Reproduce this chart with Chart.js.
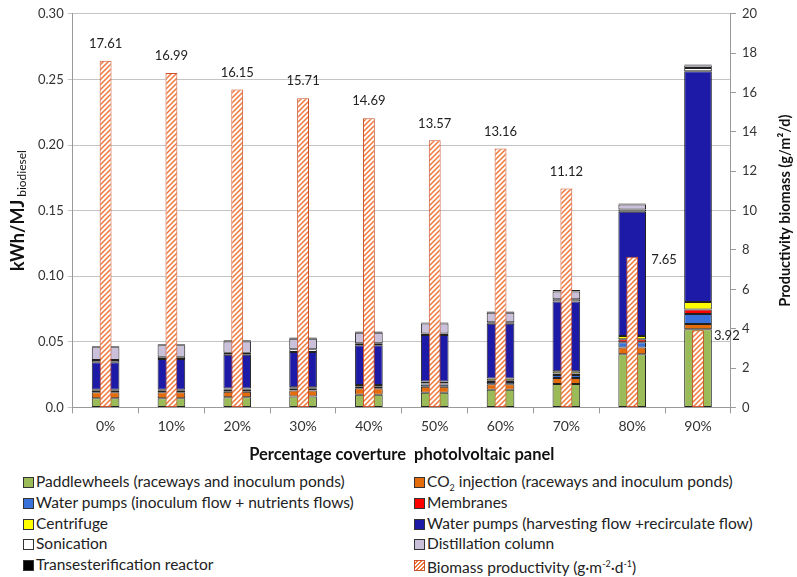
<!DOCTYPE html>
<html>
<head>
<meta charset="utf-8">
<script src="https://cdn.jsdelivr.net/npm/chart.js@4.4.1/dist/chart.umd.min.js"></script>
<style>
body { margin: 0; background: #fff; font-family: Lato, sans-serif; }
#wrap { position: relative; width: 797px; height: 577px; overflow: hidden; }
#chartBox { position: absolute; left: 0; top: 0; width: 797px; height: 469px; }
.item { position: absolute; font-size: 15.5px; color: #222; white-space: nowrap; line-height: 18px; }
.sw { position: absolute; width: 9px; height: 9px; border: 1px solid #333; }
.item sub, .item sup { font-size: 9px; }
</style>
</head>
<body>
<div id="wrap">
  <div id="chartBox"><canvas id="energyChart"></canvas></div>
  <div id="legend"></div>
</div>
<script>
// chart data
const coverage = ['0%', '10%', '20%', '30%', '40%', '50%', '60%', '70%', '80%', '90%'];

const paddlewheels   = [0.0070, 0.0070, 0.0078, 0.0083, 0.0096, 0.0111, 0.0134, 0.0179, 0.0406, 0.0595];
const co2Injection   = [0.0045, 0.0045, 0.0042, 0.0045, 0.0050, 0.0046, 0.0042, 0.0046, 0.0050, 0.0040];
const pumpsInoculum  = [0.0010, 0.0010, 0.0012, 0.0012, 0.0012, 0.0018, 0.0018, 0.0022, 0.0040, 0.0076];
const membranes      = [0.0005, 0.0005, 0.0006, 0.0006, 0.0006, 0.0008, 0.0009, 0.0011, 0.0023, 0.0035];
const centrifuge     = [0.0005, 0.0005, 0.0007, 0.0007, 0.0007, 0.0014, 0.0018, 0.0018, 0.0026, 0.0058];
const pumpsHarvest   = [0.0209, 0.0234, 0.0257, 0.0270, 0.0302, 0.0355, 0.0416, 0.0531, 0.0947, 0.1759];
const sonication     = [0.0018, 0.0017, 0.0015, 0.0020, 0.0015, 0.0012, 0.0012, 0.0017, 0.0017, 0.0023];
const distillation   = [0.0096, 0.0088, 0.0086, 0.0081, 0.0081, 0.0076, 0.0073, 0.0060, 0.0038, 0.0020];
const transester     = [0.0008, 0.0008, 0.0008, 0.0008, 0.0010, 0.0008, 0.0008, 0.0010, 0.0008, 0.0008];

const productivity   = [17.61, 16.99, 16.15, 15.71, 14.69, 13.57, 13.16, 11.12, 7.65, 3.92];

const seriesNames = [
    'Paddlewheels (raceways and inoculum ponds)',
    'CO2 injection (raceways and inoculum ponds)',
    'Water pumps (inoculum flow + nutrients flows)',
    'Membranes',
    'Centrifuge',
    'Water pumps (harvesting flow +recirculate flow)',
    'Sonication',
    'Distillation column',
    'Transesterification reactor'
];
const seriesColors = ['#9bbb59', '#e46c0a', '#3a72dc', '#ff0000', '#ffff00', '#1c1aa6', '#ffffff', '#cbc0da', '#000000'];

// hatched fill for biomass productivity
function makeHatch() {
    const c = document.createElement('canvas');
    c.width = 5; c.height = 5;
    const g = c.getContext('2d');
    g.fillStyle = '#fff';
    g.fillRect(0, 0, 5, 5);
    g.strokeStyle = '#f0773a';
    g.lineWidth = 1.5;
    g.beginPath();
    g.moveTo(0, 5); g.lineTo(5, 0);
    g.moveTo(-1, 1); g.lineTo(1, -1);
    g.moveTo(4, 6); g.lineTo(6, 4);
    g.stroke();
    return g.createPattern(c, 'repeat');
}
const hatch = makeHatch();

const stackValues = [paddlewheels, co2Injection, pumpsInoculum, membranes, centrifuge, pumpsHarvest, sonication, distillation, transester];
const datasets = stackValues.map((vals, i) => ({
    label: seriesNames[i],
    data: vals,
    backgroundColor: seriesColors[i],
    borderColor: '#222',
    borderWidth: 1,
    borderSkipped: false,
    barPercentage: 0.42,
    categoryPercentage: 1,
    yAxisID: 'y',
    order: 1
}));
datasets.push({
    label: 'Biomass productivity',
    data: productivity,
    backgroundColor: hatch,
    borderColor: '#c9502a',
    borderWidth: 1,
    borderSkipped: false,
    barPercentage: 0.18,
    categoryPercentage: 1,
    yAxisID: 'y2',
    order: 0
});

// value labels over the hatched bars + rotated axis titles
const extras = {
    id: 'extras',
    afterDatasetsDraw(chart) {
        const ctx = chart.ctx;
        const meta = chart.getDatasetMeta(datasets.length - 1);
        ctx.save();
        ctx.font = '13px Lato';
        ctx.fillStyle = '#222';
        meta.data.forEach((bar, i) => {
            const txt = productivity[i].toFixed(2);
            ctx.textBaseline = 'middle';
            if (i >= 8) {
                ctx.textAlign = 'left';
                ctx.fillText(txt, bar.x + (i === 8 ? 19 : 16), bar.y + (i === 8 ? 3 : 6));
            } else {
                ctx.textAlign = 'center';
                ctx.fillText(txt, bar.x, bar.y - 17);
            }
        });
        ctx.restore();
    },
    afterDraw(chart) {
        const ctx = chart.ctx;
        const area = chart.chartArea;
        const midY = (area.top + area.bottom) / 2;
        ctx.save();
        ctx.fillStyle = '#111';
        // left title: kWh/MJ with subscript biodiesel
        ctx.translate(18, midY);
        ctx.rotate(-Math.PI / 2);
        const main = 'kWh/MJ';
        const sub = ' biodiesel';
        ctx.font = '12px Lato';
        const subW = ctx.measureText(sub).width;
        ctx.font = 'bold 18px Lato';
        const mainW = ctx.measureText(main).width;
        const startX = -(mainW + subW) / 2;
        ctx.textBaseline = 'middle';
        ctx.textAlign = 'left';
        ctx.fillText(main, startX, 0);
        ctx.font = '12px Lato';
        ctx.fillText(sub, startX + mainW, 4);
        ctx.restore();

        // right title, reads bottom to top
        ctx.save();
        ctx.fillStyle = '#111';
        ctx.translate(785, midY);
        ctx.rotate(-Math.PI / 2);
        ctx.font = 'bold 14.5px Lato';
        ctx.textAlign = 'center';
        ctx.textBaseline = 'middle';
        ctx.fillText('Productivity biomass (g/m\u00B2/d)', 0, 0);
        ctx.restore();
    }
};

new Chart(document.getElementById('energyChart'), {
    type: 'bar',
    data: { labels: coverage, datasets: datasets },
    options: {
        responsive: true,
        maintainAspectRatio: false,
        animation: false,
        layout: { padding: { left: 34, right: 34, top: 3, bottom: 0 } },
        plugins: {
            legend: { display: false },
            tooltip: { enabled: false }
        },
        scales: {
            x: {
                stacked: true,
                grid: { display: true, offset: true, drawOnChartArea: false, tickLength: 6, color: '#999' },
                border: { color: '#999' },
                ticks: { color: '#333', font: { family: 'Lato', size: 14 }, padding: 5 },
                title: {
                    display: true,
                    text: 'Percentage coverture  photolvoltaic panel',
                    color: '#111',
                    font: { family: 'Lato', size: 16.5, weight: 'bold' },
                    padding: { top: 5, bottom: 4 }
                }
            },
            y: {
                stacked: true,
                position: 'left',
                min: 0,
                max: 0.30,
                ticks: {
                    stepSize: 0.05,
                    color: '#333',
                    font: { family: 'Lato', size: 13 },
                    padding: 4,
                    callback: v => v === 0 ? '0.0' : v.toFixed(2)
                },
                grid: { color: '#c4c4c4', tickLength: 5 },
                border: { color: '#999' }
            },
            y2: {
                stacked: false,
                position: 'right',
                min: 0,
                max: 20,
                ticks: { stepSize: 2, color: '#333', font: { family: 'Lato', size: 13 }, padding: 6 },
                grid: { drawOnChartArea: false, tickLength: 5, color: '#999' },
                border: { color: '#999' }
            }
        }
    },
    plugins: [extras]
});

// legend, two columns like the original
const legendNames = [
    'Paddlewheels (raceways and inoculum ponds)',
    'CO<sub>2</sub> injection (raceways and inoculum ponds)',
    'Water pumps (inoculum flow + nutrients flows)',
    'Membranes',
    'Centrifuge',
    'Water pumps (harvesting flow +recirculate flow)',
    'Sonication',
    'Distillation column',
    'Transesterification reactor',
    'Biomass productivity (g·m<sup>-2</sup>·d<sup>-1</sup>)'
];
const legendSwatch = seriesColors.concat(['hatch']);
const legendEl = document.getElementById('legend');
legendNames.forEach((name, i) => {
    const col = i % 2, row = Math.floor(i / 2);
    const cy = 482 + row * 20.8;
    const sx = col === 0 ? 23 : 414;
    const sw = document.createElement('div');
    sw.className = 'sw';
    sw.style.left = sx + 'px';
    sw.style.top = (cy - 5) + 'px';
    if (legendSwatch[i] === 'hatch') {
        sw.style.background = 'repeating-linear-gradient(-45deg, #fff 0 1.5px, #f0773a 1.5px 3px)';
        sw.style.borderColor = '#c9502a';
    } else {
        sw.style.background = legendSwatch[i];
    }
    legendEl.appendChild(sw);
    const it = document.createElement('div');
    it.className = 'item';
    it.style.left = (sx + 13) + 'px';
    it.style.top = (cy - 10) + 'px';
    it.innerHTML = name;
    legendEl.appendChild(it);
});
</script>
</body>
</html>
